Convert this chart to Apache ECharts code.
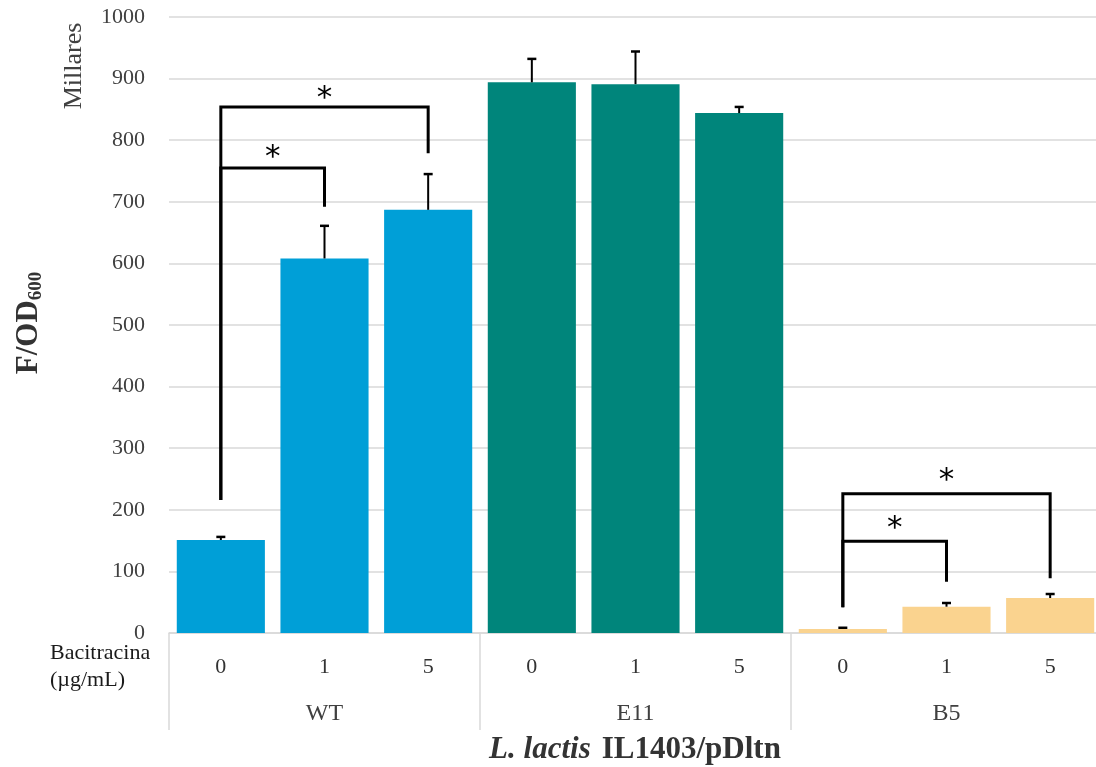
<!DOCTYPE html>
<html>
<head>
<meta charset="utf-8">
<script src="https://cdn.jsdelivr.net/npm/echarts@6/dist/echarts.min.js"></script>
<style>html,body{margin:0;padding:0;background:#fff}#c{width:1096px;height:767px}</style>
</head>
<body>
<div id="c"></div>
<script>
// ---- data ----
const categories = ['0', '1', '5', '0', '1', '5', '0', '1', '5'];
const groups = ['WT', 'E11', 'B5'];
const means = [151, 608, 687, 894, 891, 844, 6.5, 42.7, 56.8];
const errors = [5, 53, 58, 38, 53, 10, 2, 6, 6.5];
const groupColors = ['#009FD7', '#00857B', '#FAD38F'];
// significance brackets (category index from/to, values in axis units)
const bracketFrom = [0, 0, 6, 6];
const bracketTo = [2, 1, 8, 7];
const bracketLeftLow = [216, 216, 42, 42];
const bracketTop = [854, 755, 226, 149];
const bracketRightLow = [779, 692, 89, 83];
const starValue = [877, 781, 256, 179];
const yTicks = { min: 0, max: 1000, interval: 100 };

const serif = '"Liberation Serif", "DejaVu Serif", serif';
const chart = echarts.init(document.getElementById('c'));

const bracketData = bracketFrom.map((f, i) => [f, bracketTo[i], bracketLeftLow[i], bracketTop[i], bracketRightLow[i], starValue[i]]);
const errData = means.map((m, i) => [i, m, m + errors[i]]);

chart.setOption({
  animation: false,
  grid: { left: 169, top: 17, width: 933, height: 616, containLabel: false, outerBoundsMode: 'none' },
  xAxis: [
    {
      type: 'category', data: categories, position: 'bottom',
      axisLine: { show: true, lineStyle: { color: '#d9d9d9', width: 1.5 } },
      axisTick: { show: false },
      axisLabel: { fontFamily: serif, fontSize: 22, color: '#333', margin: 23, interval: 0 }
    },
    {
      type: 'category', data: groups, position: 'bottom', gridIndex: 0,
      axisLine: { show: false },
      axisTick: { show: true, length: 97, interval: 0, lineStyle: { color: '#d9d9d9', width: 1.5 } },
      axisLabel: { fontFamily: serif, fontSize: 24, color: '#404040', margin: 69, interval: 0 }
    }
  ],
  yAxis: {
    type: 'value', min: yTicks.min, max: yTicks.max, interval: yTicks.interval,
    axisLine: { show: false }, axisTick: { show: false },
    axisLabel: { fontFamily: serif, fontSize: 22, color: '#404040', margin: 24, formatter: v => String(v) },
    splitLine: { lineStyle: { color: '#d9d9d9', width: 1.5 } }
  },
  series: [
    {
      type: 'bar', data: means, xAxisIndex: 0, barCategoryGap: '15%',
      itemStyle: { color: p => groupColors[Math.floor(p.dataIndex / 3)] }
    },
    {
      type: 'custom', xAxisIndex: 0, data: errData, encode: { x: 0, y: 2 }, clip: false, z: 5,
      renderItem: (params, api) => {
        const x = api.value(0);
        const p0 = api.coord([x, api.value(1)]);
        const p1 = api.coord([x, api.value(2)]);
        return {
          type: 'group', children: [
            { type: 'line', shape: { x1: p0[0], y1: p0[1], x2: p1[0], y2: p1[1] }, style: { stroke: '#000', lineWidth: 2 } },
            { type: 'line', shape: { x1: p1[0] - 4.5, y1: p1[1], x2: p1[0] + 4.5, y2: p1[1] }, style: { stroke: '#000', lineWidth: 2.5 } }
          ]
        };
      }
    },
    {
      type: 'custom', xAxisIndex: 0, data: bracketData, encode: { x: 0, y: 3 }, clip: false, z: 6,
      renderItem: (params, api) => {
        const b = bracketData[params.dataIndex];
        const pL0 = api.coord([b[0], b[2]]);
        const pLT = api.coord([b[0], b[3]]);
        const pRT = api.coord([b[1], b[3]]);
        const pR0 = api.coord([b[1], b[4]]);
        const sA = api.coord([b[0], b[5]]);
        const sB = api.coord([b[1], b[5]]);
        return {
          type: 'group', children: [
            { type: 'polyline', shape: { points: [pL0, pLT, pRT, pR0] }, style: { stroke: '#000', lineWidth: 3, fill: null, lineJoin: 'miter' } },
            { type: 'text', x: (sA[0] + sB[0]) / 2, y: sA[1] + 6, style: { text: '*', fontFamily: '"DejaVu Sans", sans-serif', fontSize: 31, fill: '#000', align: 'center', verticalAlign: 'middle' } }
          ]
        };
      }
    }
  ],
  graphic: [
    { type: 'text', x: 74, y: 66, rotation: Math.PI / 2, style: { text: 'Millares', fontFamily: serif, fontSize: 26, fill: '#404040', align: 'center', verticalAlign: 'middle' } },
    { type: 'text', x: 29, y: 323, rotation: Math.PI / 2, style: {
        text: '{a|F/OD}{b|600}', align: 'center', verticalAlign: 'middle',
        rich: { a: { fontFamily: serif, fontSize: 31, fontWeight: 'bold', fill: '#333', color: '#333' },
                b: { fontFamily: serif, fontSize: 19, fontWeight: 'bold', fill: '#333', color: '#333', verticalAlign: 'bottom', padding: [15, 0, 0, 0] } } } },
    { type: 'text', left: 50, top: 640, style: { text: 'Bacitracina\n(µg/mL)', fontFamily: serif, fontSize: 22, lineHeight: 27, fill: '#1a1a1a' } },
    { type: 'text', x: 635, y: 750, style: {
        text: '{i|L. lactis}{n|IL1403/pDltn}', align: 'center', verticalAlign: 'middle',
        rich: { i: { fontFamily: serif, fontSize: 31, fontWeight: 'bold', fontStyle: 'italic', fill: '#333', color: '#333' },
                n: { fontFamily: serif, fontSize: 31, fontWeight: 'bold', fill: '#333', color: '#333', padding: [0, 0, 0, 11] } } } }
  ]
});
</script>
</body>
</html>
